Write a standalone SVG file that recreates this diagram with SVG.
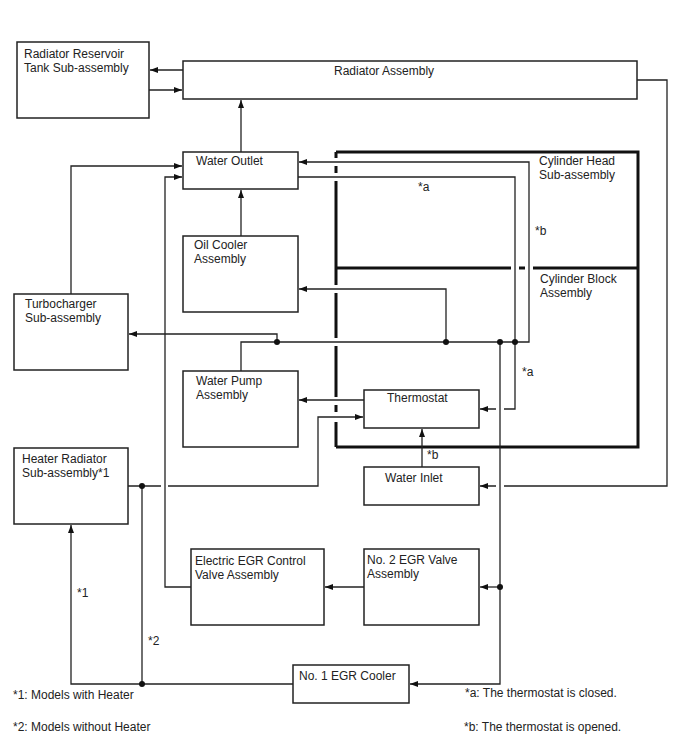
<svg xmlns="http://www.w3.org/2000/svg" width="688" height="755" viewBox="0 0 688 755">
<style>
.box{fill:#fff;stroke:#222;stroke-width:1.5}
.ln{fill:none;stroke:#222;stroke-width:1.3}
.thk{fill:none;stroke:#111;stroke-width:3}
.dot{fill:#111}
text{font-family:"Liberation Sans",Arial,sans-serif;font-size:12px;fill:#222}
</style>
<defs>
<marker id="ar" markerUnits="userSpaceOnUse" markerWidth="9" markerHeight="7" refX="8" refY="3" orient="auto">
<path d="M0,0 L8,3 L0,6 z" fill="#111"/>
</marker>
</defs>
<rect width="688" height="755" fill="#fff"/>

<g id="cylinder">
<path class="thk" d="M336,152 H638 V447 H336 M336,152 V158 M336,166 V173 M336,181 V285 M336,293 V338 M336,346 V397 M336,405 V412 M336,422 V447"/>
<path class="thk" d="M336,268 H511 M519,268 H525 M533,268 H638"/>
<text x="539" y="165">Cylinder Head</text>
<text x="539" y="179">Sub-assembly</text>
<text x="540" y="283">Cylinder Block</text>
<text x="540" y="297">Assembly</text>
</g>

<g id="connectors">
<path class="ln" d="M183,70 H150" marker-end="url(#ar)"/>
<path class="ln" d="M149,90 H182" marker-end="url(#ar)"/>
<path class="ln" d="M241,152 V100" marker-end="url(#ar)"/>
<path class="ln" d="M241,236 V190" marker-end="url(#ar)"/>
<path class="ln" d="M241,371 V342 H529 V162 H299" marker-end="url(#ar)"/>
<path class="ln" d="M298,177 H515 V409 H504 M496,409 H480" marker-end="url(#ar)"/>
<path class="ln" d="M277,342 V334 H129" marker-end="url(#ar)"/>
<path class="ln" d="M446,342 V289 H299" marker-end="url(#ar)"/>
<path class="ln" d="M71,294 V166 H182" marker-end="url(#ar)"/>
<path class="ln" d="M191,587 H165 V177 H182" marker-end="url(#ar)"/>
<path class="ln" d="M364,400 H299" marker-end="url(#ar)"/>
<path class="ln" d="M128,486 H161 M168,486 H318 V417 H363" marker-end="url(#ar)"/>
<path class="ln" d="M142,486 V684"/>
<path class="ln" d="M293,684 H71 V525" marker-end="url(#ar)"/>
<path class="ln" d="M422,467 V429" marker-end="url(#ar)"/>
<path class="ln" d="M637,80 H667 V486 H504 M496,486 H480" marker-end="url(#ar)"/>
<path class="ln" d="M500,342 V684 H410" marker-end="url(#ar)"/>
<path class="ln" d="M500,587 H480" marker-end="url(#ar)"/>
<path class="ln" d="M364,587 H325" marker-end="url(#ar)"/>
<circle class="dot" cx="277" cy="342" r="3"/>
<circle class="dot" cx="446" cy="342" r="3"/>
<circle class="dot" cx="500" cy="342" r="3"/>
<circle class="dot" cx="515" cy="342" r="3"/>
<circle class="dot" cx="142" cy="486" r="3"/>
<circle class="dot" cx="142" cy="684" r="3"/>
<circle class="dot" cx="500" cy="587" r="3"/>
<text x="418" y="191">*a</text>
<text x="535" y="235">*b</text>
<text x="522" y="376">*a</text>
<text x="427" y="459">*b</text>
<text x="77" y="597">*1</text>
<text x="148" y="645">*2</text>
</g>

<g id="reservoir">
<rect class="box" x="17" y="42" width="132" height="76"/>
<text x="24" y="58">Radiator Reservoir</text>
<text x="24" y="72">Tank Sub-assembly</text>
</g>
<g id="radiator">
<rect class="box" x="183" y="61" width="454" height="38"/>
<text x="334" y="75">Radiator Assembly</text>
</g>
<g id="water-outlet">
<rect class="box" x="183" y="152" width="115" height="37"/>
<text x="196" y="165">Water Outlet</text>
</g>
<g id="oil-cooler">
<rect class="box" x="183" y="236" width="115" height="76"/>
<text x="194" y="249">Oil Cooler</text>
<text x="194" y="263">Assembly</text>
</g>
<g id="turbocharger">
<rect class="box" x="14" y="294" width="114" height="76"/>
<text x="25" y="308">Turbocharger</text>
<text x="25" y="322">Sub-assembly</text>
</g>
<g id="water-pump">
<rect class="box" x="183" y="371" width="115" height="76"/>
<text x="196" y="385">Water Pump</text>
<text x="196" y="399">Assembly</text>
</g>
<g id="thermostat">
<rect class="box" x="364" y="390" width="115" height="38"/>
<text x="387" y="402">Thermostat</text>
</g>
<g id="water-inlet">
<rect class="box" x="364" y="467" width="115" height="38"/>
<text x="385" y="482">Water Inlet</text>
</g>
<g id="heater-radiator">
<rect class="box" x="14" y="448" width="114" height="76"/>
<text x="22" y="463">Heater Radiator</text>
<text x="22" y="477">Sub-assembly*1</text>
</g>
<g id="electric-egr">
<rect class="box" x="191" y="549" width="133" height="76"/>
<text x="195" y="565">Electric EGR Control</text>
<text x="195" y="579">Valve Assembly</text>
</g>
<g id="no2-egr">
<rect class="box" x="364" y="549" width="115" height="76"/>
<text x="367" y="564">No. 2 EGR Valve</text>
<text x="367" y="578">Assembly</text>
</g>
<g id="no1-egr">
<rect class="box" x="293" y="665" width="116" height="38"/>
<text x="299" y="680">No. 1 EGR Cooler</text>
</g>

<g id="legend">
<text x="13" y="699">*1: Models with Heater</text>
<text x="13" y="731">*2: Models without Heater</text>
<text x="465" y="697">*a: The thermostat is closed.</text>
<text x="464" y="731">*b: The thermostat is opened.</text>
</g>
</svg>
